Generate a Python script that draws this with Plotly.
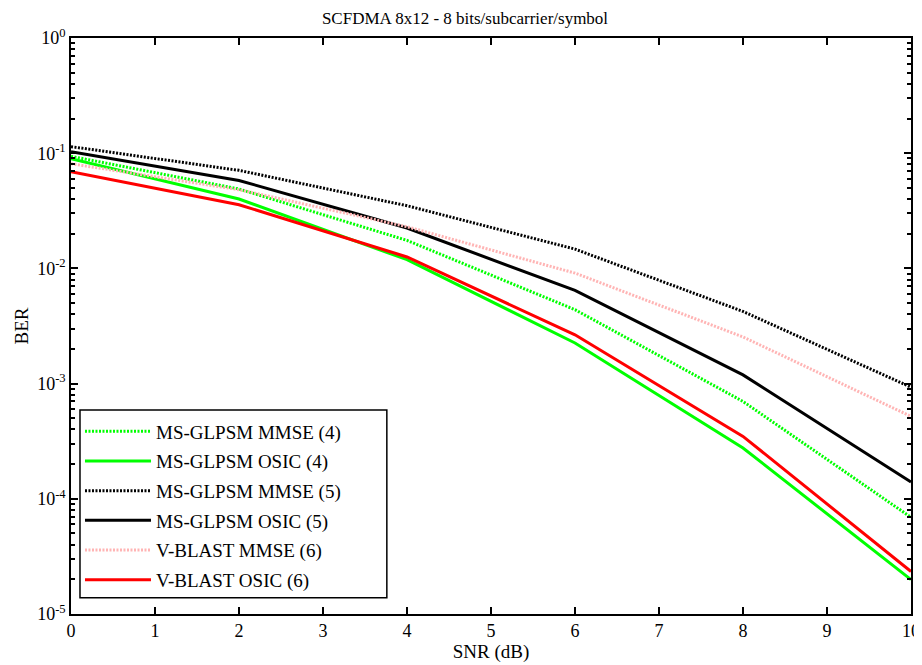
import plotly.graph_objects as go

snr = [0, 2, 4, 6, 8, 10]

ms_mmse4 = [0.094, 0.0489, 0.0175, 0.00438, 0.00070, 6.9e-5]
ms_osic4 = [0.0896, 0.040, 0.0119, 0.00225, 0.000276, 1.99e-5]
ms_mmse5 = [0.114, 0.071, 0.035, 0.0147, 0.00423, 0.00093]
ms_osic5 = [0.103, 0.058, 0.0224, 0.00644, 0.00119, 0.00014]
vb_mmse6 = [0.081, 0.0482, 0.023, 0.0091, 0.00254, 0.000519]
vb_osic6 = [0.069, 0.0357, 0.01256, 0.00265, 0.000348, 2.34e-5]

names = ["MS-GLPSM MMSE (4)", "MS-GLPSM OSIC (4)", "MS-GLPSM MMSE (5)",
         "MS-GLPSM OSIC (5)", "V-BLAST MMSE (6)", "V-BLAST OSIC (6)"]
series = [ms_mmse4, ms_osic4, ms_mmse5, ms_osic5, vb_mmse6, vb_osic6]
colors = ["rgb(0,255,0)", "rgb(0,255,0)", "black", "black", "rgb(255,180,180)", "rgb(255,0,0)"]
dashes = ["2px,1.5px", "solid", "2px,1.5px", "solid", "2px,1.5px", "solid"]

ytick_vals = [1e-5, 1e-4, 1e-3, 1e-2, 1e-1, 1]
ytick_text = ["10<sup>-5</sup>", "10<sup>-4</sup>", "10<sup>-3</sup>",
              "10<sup>-2</sup>", "10<sup>-1</sup>", "10<sup>0</sup>"]
xtick_vals = list(range(0, 11))

font_family = "Liberation Serif"

fig = go.Figure()
for i, (n, s, c, d) in enumerate(zip(names, series, colors, dashes)):
    fig.add_trace(go.Scatter(x=snr, y=s, name=n, mode="lines", legendgroup=f"g{i}",
                             line=dict(color=c, width=3, dash=d)))

# legend frame (drawn as a shape so its size matches the reference box)
fig.add_shape(type="rect", xref="paper", yref="paper",
              x0=0.0107, x1=0.376, y0=0.028, y1=0.354,
              line=dict(color="black", width=1.5), fillcolor="rgba(0,0,0,0)", layer="above")

# the page body has an 8px margin, so the figure is 8px smaller and margins shifted
fig.update_layout(
    width=914, height=657,
    margin=dict(l=63, r=11, t=30, b=51),
    paper_bgcolor="white", plot_bgcolor="white",
    font=dict(family=font_family, size=18, color="black"),
    title=dict(text="SCFDMA 8x12 - 8 bits/subcarrier/symbol", x=0.5, xanchor="center",
               y=1 - 10 / 657, yanchor="middle", font=dict(size=17, family=font_family)),
    showlegend=True,
    legend=dict(x=0.0107, y=0.35, xanchor="left", yanchor="top",
                borderwidth=0, bgcolor="rgba(255,255,255,0)",
                font=dict(size=19, family=font_family), tracegroupgap=2,
                itemwidth=66),
)

fig.update_xaxes(range=[0, 10], tickmode="array", tickvals=xtick_vals,
                 ticks="inside", ticklen=7, tickwidth=1.5, tickcolor="black",
                 showline=True, linecolor="black", linewidth=1.5, mirror="ticks",
                 showgrid=False, zeroline=False, automargin=False,
                 title=dict(text="SNR (dB)", standoff=2, font=dict(size=19)),
                 tickfont=dict(size=18))
fig.update_yaxes(type="log", range=[-5, 0], tickmode="array", tickvals=ytick_vals,
                 ticktext=ytick_text,
                 ticks="inside", ticklen=7, tickwidth=1.5, tickcolor="black",
                 minor=dict(ticks="inside", ticklen=4, tickwidth=1.5, tickcolor="black", dtick="D1"),
                 showline=True, linecolor="black", linewidth=1.5, mirror="ticks",
                 showgrid=False, zeroline=False, automargin=False,
                 title=dict(text="BER", standoff=4, font=dict(size=19)),
                 tickfont=dict(size=18))

fig.write_html("out.html")
